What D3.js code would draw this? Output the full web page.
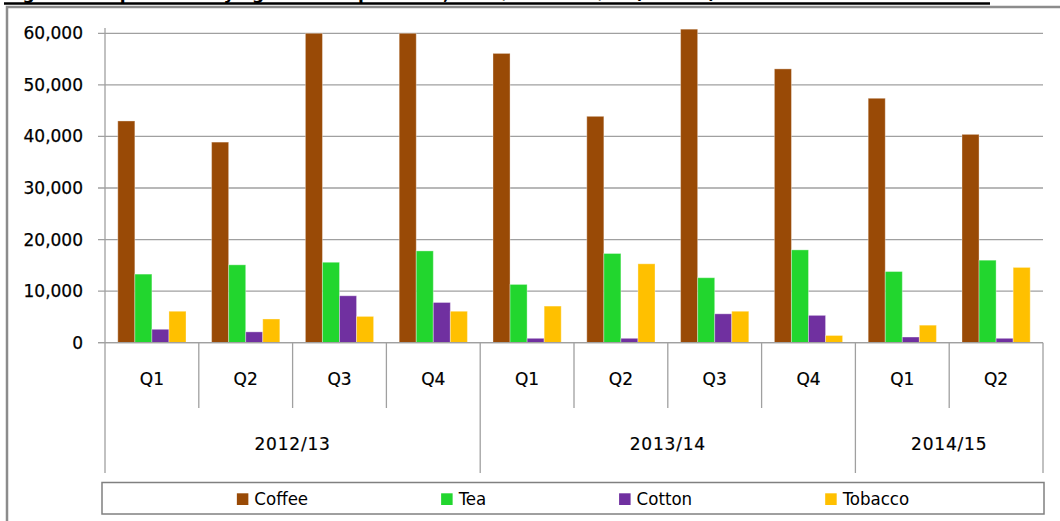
<!DOCTYPE html>
<html>
<head>
<meta charset="utf-8">
<script src="https://cdn.jsdelivr.net/npm/d3@7"></script>
<style>
  body { margin: 0; background: #fff; }
  svg { display: block; }
</style>
</head>
<body>
<svg id="chart" width="1060" height="521"></svg>
<script>
// quarters along the bottom, years grouped underneath
const quarters = ["Q1", "Q2", "Q3", "Q4", "Q1", "Q2", "Q3", "Q4", "Q1", "Q2"];
const yearLabels = ["2012/13", "2013/14", "2014/15"];
const yearSpans = [4, 4, 2];

const seriesNames = ["Coffee", "Tea", "Cotton", "Tobacco"];
const seriesColors = ["#994a06", "#22d62e", "#7030a0", "#ffc000"];

const coffee  = [43000, 38900, 60000, 60000, 56100, 43900, 60800, 53100, 47400, 40400];
const tea     = [13300, 15100, 15600, 17800, 11300, 17300, 12600, 18000, 13800, 16000];
const cotton  = [2600, 2100, 9100, 7800, 850, 850, 5600, 5300, 1100, 850];
const tobacco = [6100, 4600, 5100, 6100, 7100, 15300, 6100, 1400, 3400, 14600];

const yTicks = [0, 10000, 20000, 30000, 40000, 50000, 60000];

const titleText = "Figure 3: Exports of key agricultural products, 2012/13 - 2014/15 (tonnes)";

const series = [coffee, tea, cotton, tobacco];

const svg = d3.select("#chart");
const font = "'DejaVu Sans', Verdana, sans-serif";
const plotLeft = 105, plotRight = 1043, plotTop = 33.3, plotBottom = 342.7;
const qBottom = 408, yearBottom = 473;

// title, almost entirely cut off above the page (as in the source)
svg.append("text")
    .attr("x", 5)
    .attr("y", -1)
    .attr("font-family", font)
    .attr("font-weight", "bold")
    .attr("font-size", 17)
    .text(titleText);
svg.append("line")
    .attr("x1", 4).attr("x2", 990)
    .attr("y1", 3.5).attr("y2", 3.5)
    .attr("stroke", "#000").attr("stroke-width", 2.4);

// chart frame
svg.append("path")
    .attr("d", "M7,540 L7,7 L1070,7")
    .attr("fill", "none")
    .attr("stroke", "#8c8c8c")
    .attr("stroke-width", 2.5);

const x0 = d3.scaleBand()
    .domain(d3.range(quarters.length))
    .range([plotLeft, plotRight])
    .paddingInner(0);

const x1 = d3.scaleBand()
    .domain(d3.range(seriesNames.length))
    .range([0, x0.bandwidth()])
    .paddingInner(0)
    .paddingOuter(0.75);

const y = d3.scaleLinear()
    .domain([0, 60000])
    .range([plotBottom, plotTop]);

// gridlines
svg.append("g")
    .selectAll("line")
    .data(yTicks)
    .join("line")
        .attr("x1", plotLeft - 7)
        .attr("x2", plotRight)
        .attr("y1", d => y(d))
        .attr("y2", d => y(d))
        .attr("stroke", "#a0a0a0")
        .attr("stroke-width", 1.3);

// y axis
const yAxis = svg.append("g")
    .attr("transform", `translate(${plotLeft},0)`)
    .call(d3.axisLeft(y).tickValues(yTicks).tickFormat(d3.format(",")).tickSize(0).tickPadding(22));
yAxis.select(".domain").remove();
yAxis.selectAll("text")
    .attr("font-family", font)
    .attr("font-size", 17)
    .attr("fill", "#000")
    .attr("stroke", "#000")
    .attr("stroke-width", 0.25);
svg.append("line")
    .attr("x1", plotLeft).attr("x2", plotLeft)
    .attr("y1", 28).attr("y2", yearBottom)
    .attr("stroke", "#a0a0a0").attr("stroke-width", 1.3);

// bars
svg.append("g")
    .selectAll("g")
    .data(quarters.map((q, i) => i))
    .join("g")
        .attr("transform", i => `translate(${x0(i)},0)`)
    .selectAll("rect")
    .data(i => series.map((s, k) => ({k: k, v: s[i]})))
    .join("rect")
        .attr("x", d => x1(d.k))
        .attr("y", d => y(d.v))
        .attr("width", x1.bandwidth())
        .attr("height", d => y(0) - y(d.v))
        .attr("fill", d => seriesColors[d.k])
        .attr("stroke", "rgba(255,255,255,0.35)")
        .attr("stroke-width", 1);

// category axis: quarter separators and labels
svg.append("g")
    .selectAll("line")
    .data(d3.range(1, quarters.length + 1))
    .join("line")
        .attr("x1", i => plotLeft + i * x0.step())
        .attr("x2", i => plotLeft + i * x0.step())
        .attr("y1", plotBottom)
        .attr("y2", qBottom)
        .attr("stroke", "#a0a0a0")
        .attr("stroke-width", 1.3);

svg.append("g")
    .selectAll("text")
    .data(quarters)
    .join("text")
        .attr("x", (d, i) => x0(i) + x0.bandwidth() / 2)
        .attr("y", 385)
        .attr("text-anchor", "middle")
        .attr("font-family", font)
        .attr("font-size", 17)
        .attr("fill", "#000")
        .attr("stroke", "#000")
        .attr("stroke-width", 0.2)
        .text(d => d);

// year separators and labels
const yearStarts = yearSpans.map((n, i) => d3.sum(yearSpans.slice(0, i)));
svg.append("g")
    .selectAll("line")
    .data(yearStarts.map((s, i) => s + yearSpans[i]))
    .join("line")
        .attr("x1", e => plotLeft + e * x0.step())
        .attr("x2", e => plotLeft + e * x0.step())
        .attr("y1", qBottom)
        .attr("y2", yearBottom)
        .attr("stroke", "#a0a0a0")
        .attr("stroke-width", 1.3);

svg.append("g")
    .selectAll("text")
    .data(yearLabels)
    .join("text")
        .attr("x", (d, i) => plotLeft + (yearStarts[i] + yearSpans[i] / 2) * x0.step())
        .attr("y", 450)
        .attr("text-anchor", "middle")
        .attr("font-family", font)
        .attr("font-size", 17)
        .attr("letter-spacing", 0.8)
        .attr("fill", "#000")
        .attr("stroke", "#000")
        .attr("stroke-width", 0.2)
        .text(d => d);

// axis baseline
svg.append("line")
    .attr("x1", plotLeft - 7).attr("x2", plotRight)
    .attr("y1", plotBottom).attr("y2", plotBottom)
    .attr("stroke", "#a0a0a0").attr("stroke-width", 1.3);

// legend
const legBox = {x: 102, y: 482.5, w: 942, h: 31.5};
svg.append("rect")
    .attr("x", legBox.x).attr("y", legBox.y)
    .attr("width", legBox.w).attr("height", legBox.h)
    .attr("fill", "#fff")
    .attr("stroke", "#808080")
    .attr("stroke-width", 1.5);

const leg = svg.append("g");
const items = leg.selectAll("g")
    .data(seriesNames)
    .join("g");
items.append("rect")
    .attr("y", 493.3)
    .attr("width", 11.5)
    .attr("height", 11.7)
    .attr("fill", (d, i) => seriesColors[i]);
items.append("text")
    .attr("x", 17.5)
    .attr("y", 505)
    .attr("font-family", "'DejaVu Sans Condensed', 'DejaVu Sans', sans-serif")
    .attr("font-stretch", "condensed")
    .attr("font-size", 18.5)
    .attr("fill", "#000")
    .text(d => d);

const gap = 133;
const widths = [];
items.each(function () {
    widths.push(17.5 + d3.select(this).select("text").node().getComputedTextLength());
});
const total = d3.sum(widths) + gap * (widths.length - 1);
let cx = legBox.x + legBox.w / 2 - total / 2;
items.attr("transform", (d, i) => {
    const t = `translate(${cx},0)`;
    cx += widths[i] + gap;
    return t;
});
</script>
</body>
</html>
